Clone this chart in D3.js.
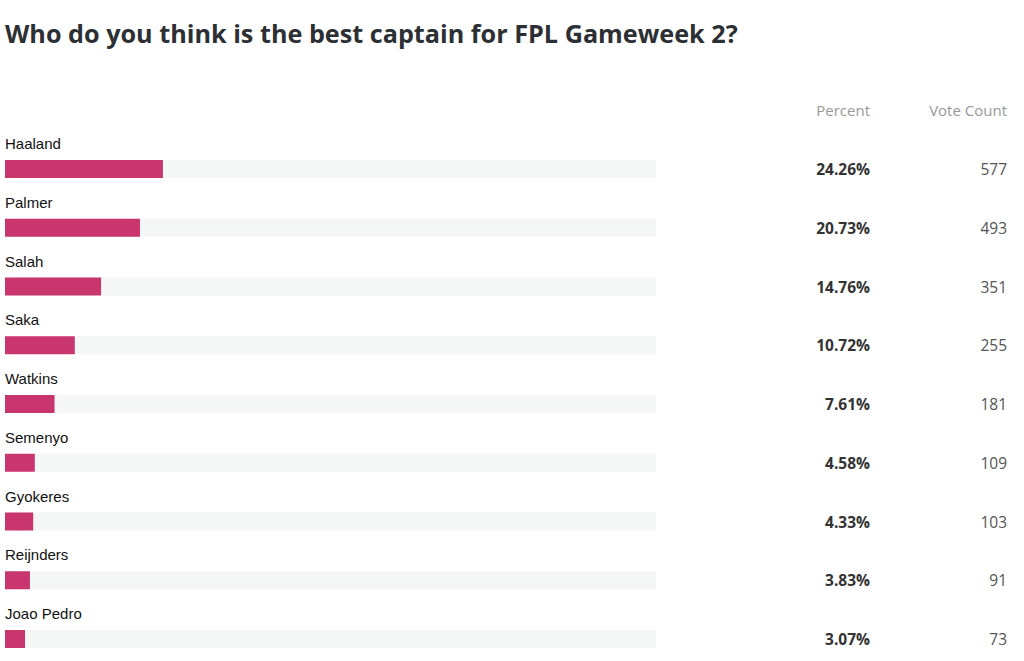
<!DOCTYPE html>
<html>
<head>
<meta charset="utf-8">
<script src="https://cdn.jsdelivr.net/npm/d3@7"></script>
<style>
  body { margin: 0; background: #fff; }
</style>
</head>
<body>
<div id="chart"></div>
<script>
const players = ['Haaland', 'Palmer', 'Salah', 'Saka', 'Watkins', 'Semenyo', 'Gyokeres', 'Reijnders', 'Joao Pedro'];
const percents = [24.26, 20.73, 14.76, 10.72, 7.61, 4.58, 4.33, 3.83, 3.07];
const votes = [577, 493, 351, 255, 181, 109, 103, 91, 73];
const columns = ['Percent', 'Vote Count'];

const title = 'Who do you think is the best captain for FPL Gameweek 2?';

const width = 1024;
const height = 661;

const rows = players.map((name, i) => ({ name, pct: percents[i], votes: votes[i] }));

const svg = d3.select('#chart')
  .append('svg')
  .attr('width', width)
  .attr('height', height);

/* title */
const titleText = svg.append('text')
  .attr('x', 5)
  .attr('y', 43)
  .attr('font-family', '"Open Sans", sans-serif')
  .attr('font-weight', 700)
  .attr('font-size', 25)
  .attr('fill', '#2c3034')
  .text(title);

// fit the title to the reference width
const tw = titleText.node().getComputedTextLength();
titleText.attr('font-size', 25 * 733 / tw);

/* scales */
const x = d3.scaleLinear().domain([0, 100]).range([5, 656]);
const y = d3.scaleBand()
  .domain(players)
  .range([137, 137 + 58.75 * players.length]);

const barH = 18;

/* column headers */
svg.append('g')
  .selectAll('text')
  .data(columns)
  .enter()
  .append('text')
  .attr('x', (_d, i) => i === 0 ? 870 : 1007)
  .attr('y', 116)
  .attr('text-anchor', 'end')
  .attr('font-family', '"Open Sans", sans-serif')
  .attr('font-size', 15)
  .attr('fill', '#999')
  .text(d => d);

const row = svg.append('g')
  .selectAll('g')
  .data(rows)
  .enter()
  .append('g')
  .attr('transform', d => `translate(0, ${y(d.name)})`);

row.append('text')
  .attr('x', 5)
  .attr('y', 12)
  .attr('font-family', '"Liberation Sans", Arial, sans-serif')
  .attr('font-size', 15)
  .attr('fill', '#111')
  .text(d => d.name);

// track
row.append('rect')
  .attr('x', x(0))
  .attr('y', 23)
  .attr('width', x(100) - x(0))
  .attr('height', barH)
  .attr('fill', '#f5f6f6');

// bar
row.append('rect')
  .attr('x', x(0))
  .attr('y', 23)
  .attr('width', d => x(d.pct) - x(0))
  .attr('height', barH)
  .attr('fill', '#c8366d');

row.append('text')
  .attr('x', 870)
  .attr('y', 38)
  .attr('text-anchor', 'end')
  .attr('font-family', '"Open Sans", sans-serif')
  .attr('font-weight', 700)
  .attr('font-size', 15.5)
  .attr('fill', '#333')
  .text(d => d.pct.toFixed(2) + '%');

row.append('text')
  .attr('x', 1007)
  .attr('y', 38)
  .attr('text-anchor', 'end')
  .attr('font-family', '"Open Sans", sans-serif')
  .attr('font-size', 15.5)
  .attr('fill', '#555')
  .text(d => d.votes);
</script>
</body>
</html>
